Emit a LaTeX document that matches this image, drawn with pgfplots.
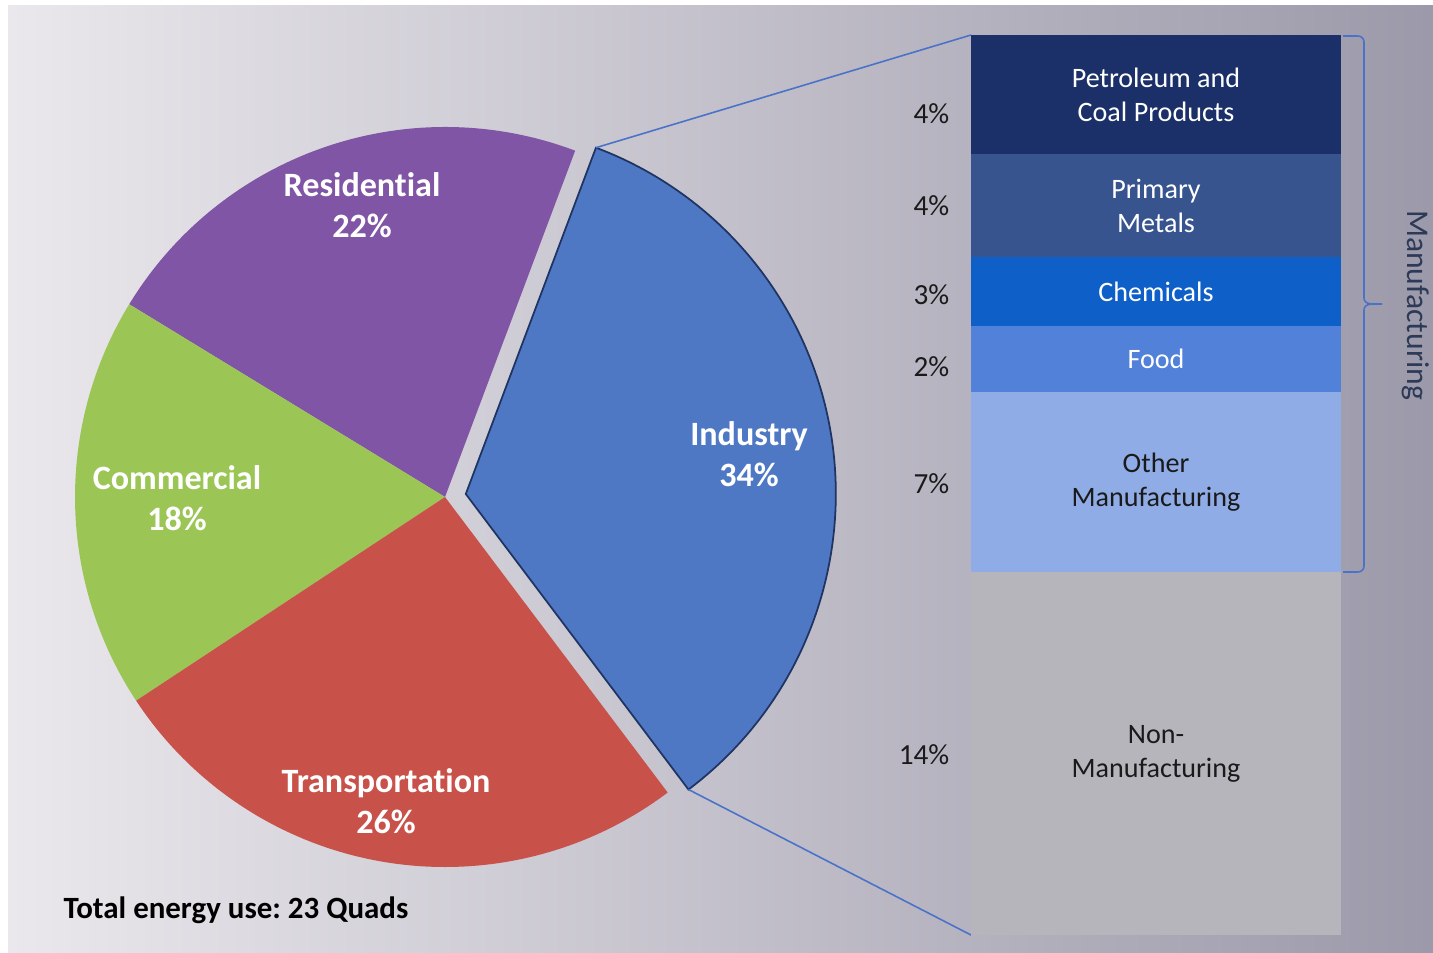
\documentclass[border=0pt]{standalone}
\usepackage{pgfplots}
\pgfplotsset{compat=1.18}
\usepackage{fontspec}
\setmainfont{Carlito}[Ligatures=NoCommon]
\frenchspacing

\definecolor{bgL}{HTML}{EAE8EC}
\definecolor{bgR}{HTML}{9B98A9}
\definecolor{cRes}{HTML}{8155A6}
\definecolor{cCom}{HTML}{9BC655}
\definecolor{cTra}{HTML}{C8514A}
\definecolor{cInd}{HTML}{4F78C4}
\definecolor{cIndLine}{HTML}{1F3462}
\definecolor{cPet}{HTML}{1B3068}
\definecolor{cPri}{HTML}{37548F}
\definecolor{cChe}{HTML}{0F5FC9}
\definecolor{cFoo}{HTML}{5181D8}
\definecolor{cOth}{HTML}{8FACE6}
\definecolor{cNon}{HTML}{B6B5BB}
\definecolor{cLine}{HTML}{4A72C9}
\definecolor{cManu}{HTML}{2C3A58}
\definecolor{cTxt}{HTML}{1A1A1A}

% pie shares (%): Industry 34, Residential 22, Commercial 18, Transportation 26
\pgfmathsetmacro\pieaA{-53}
\pgfmathsetmacro\pieaB{\pieaA+3.6*34}
\pgfmathsetmacro\pieaC{\pieaB+3.6*22}
\pgfmathsetmacro\pieaD{\pieaC+3.6*18}
\pgfmathsetmacro\pieaE{\pieaD+3.6*26}
\pgfmathsetmacro\piemA{(\pieaA+\pieaB)/2}

\begin{document}
\begin{tikzpicture}
\begin{axis}[
  at={(0,0)}, anchor=south west,
  scale only axis, width=14.33cm, height=9.52cm,
  xmin=0, xmax=1433, ymin=0, ymax=952, y dir=reverse,
  hide axis, clip=false]
\addplot[draw=none, forget plot] coordinates {(0,0) (1433,952)};
\fill[white] (axis cs:-10,-10) rectangle (axis cs:1450,970);
\shade[left color=bgL, right color=bgR] (axis cs:8,6) rectangle (axis cs:1450,970);
% pie
\fill[cRes] (axis cs:445,497) -- ++(\pieaB:3.7cm) arc[start angle=\pieaB, end angle=\pieaC, radius=3.7cm] -- cycle;
\fill[cCom] (axis cs:445,497) -- ++(\pieaC:3.7cm) arc[start angle=\pieaC, end angle=\pieaD, radius=3.7cm] -- cycle;
\fill[cTra] (axis cs:445,497) -- ++(\pieaD:3.7cm) arc[start angle=\pieaD, end angle=\pieaE, radius=3.7cm] -- cycle;
\filldraw[fill=cInd, draw=cIndLine, line width=0.5pt, shift={(\piemA:0.21cm)}] (axis cs:445,497) -- ++(\pieaA:3.7cm) arc[start angle=\pieaA, end angle=\pieaB, radius=3.7cm] -- cycle;
% connectors
\draw[cLine, line width=0.45pt] (axis cs:445,497) ++(\piemA:0.21cm) ++(\pieaB:3.7cm) -- (axis cs:971,35);
\draw[cLine, line width=0.45pt] (axis cs:445,497) ++(\piemA:0.21cm) ++(\pieaA:3.7cm) -- (axis cs:971,935);
% pie labels
\node[font=\bfseries\fontsize{9.7}{11.6}\selectfont, text=white, align=center] at (axis cs:362,205) {Residential\\22\%};
\node[font=\bfseries\fontsize{9.7}{11.6}\selectfont, text=white, align=center] at (axis cs:177,498) {Commercial\\18\%};
\node[font=\bfseries\fontsize{9.7}{11.6}\selectfont, text=white, align=center] at (axis cs:386,801) {Transportation\\26\%};
\node[font=\bfseries\fontsize{9.7}{11.6}\selectfont, text=white, align=center] at (axis cs:749,454) {Industry\\34\%};
\node[anchor=west, font=\bfseries\fontsize{8.8}{10}\selectfont, text=black, inner sep=0pt] at (axis cs:63,910) {Total energy use: 23 Quads};
% bracket
\draw[cLine, line width=0.45pt] (axis cs:1343,36) -- (axis cs:1358,36) to[out=0,in=90] (axis cs:1364,42) -- (axis cs:1364,298) to[out=-90,in=180] (axis cs:1382,304) to[out=180,in=90] (axis cs:1364,310) -- (axis cs:1364,566) to[out=-90,in=0] (axis cs:1358,572) -- (axis cs:1343,572);
\node[rotate=-90, inner sep=0pt, font=\fontsize{9}{11}\selectfont, text=cManu] at (axis cs:1416,305) {Manufacturing};
% percentage labels
\node[anchor=east, inner sep=0pt, font=\fontsize{8.3}{10}\selectfont, text=cTxt] at (axis cs:950,114) {4\%};
\node[anchor=east, inner sep=0pt, font=\fontsize{8.3}{10}\selectfont, text=cTxt] at (axis cs:950,206) {4\%};
\node[anchor=east, inner sep=0pt, font=\fontsize{8.3}{10}\selectfont, text=cTxt] at (axis cs:950,295) {3\%};
\node[anchor=east, inner sep=0pt, font=\fontsize{8.3}{10}\selectfont, text=cTxt] at (axis cs:950,367) {2\%};
\node[anchor=east, inner sep=0pt, font=\fontsize{8.3}{10}\selectfont, text=cTxt] at (axis cs:950,484) {7\%};
\node[anchor=east, inner sep=0pt, font=\fontsize{8.3}{10}\selectfont, text=cTxt] at (axis cs:950,755) {14\%};
\end{axis}

% stacked bar, bottom-up: Non-Manufacturing, Other, Food, Chemicals, Primary Metals, Petroleum
\begin{axis}[
  at={(9.71cm,0.17cm)}, anchor=south west,
  scale only axis, width=3.7cm, height=9.0cm,
  xmin=-0.5, xmax=0.5, ymin=0, ymax=34,
  ybar stacked, bar width=3.7cm, hide axis, clip=false]
\addplot[fill=cNon, draw=none] coordinates {(0,13.7)};
\addplot[fill=cOth, draw=none] coordinates {(0,6.8)};
\addplot[fill=cFoo, draw=none] coordinates {(0,2.5)};
\addplot[fill=cChe, draw=none] coordinates {(0,2.6)};
\addplot[fill=cPri, draw=none] coordinates {(0,3.9)};
\addplot[fill=cPet, draw=none] coordinates {(0,4.5)};
\coordinate (lPet) at (axis cs:0,31.75);
\coordinate (lPri) at (axis cs:0,27.55);
\coordinate (lChe) at (axis cs:0,24.3);
\coordinate (lFoo) at (axis cs:0,21.75);
\coordinate (lOth) at (axis cs:0,17.1);
\coordinate (lNon) at (axis cs:0,6.85);
\end{axis}
\node[text=white, font=\fontsize{8}{9.7}\selectfont, align=center] at (lPet) {Petroleum and\\Coal Products};
\node[text=white, font=\fontsize{8}{9.7}\selectfont, align=center] at (lPri) {Primary\\Metals};
\node[text=white, font=\fontsize{8}{9.7}\selectfont, align=center] at (lChe) {Chemicals};
\node[text=white, font=\fontsize{8}{9.7}\selectfont, align=center] at (lFoo) {Food};
\node[text=cTxt, font=\fontsize{8}{9.7}\selectfont, align=center] at (lOth) {Other\\Manufacturing};
\node[text=cTxt, font=\fontsize{8}{9.7}\selectfont, align=center] at (lNon) {Non-\\Manufacturing};
\pgfresetboundingbox
\path[use as bounding box] (0,0) rectangle (14.33cm,9.52cm);
\end{tikzpicture}
\end{document}
